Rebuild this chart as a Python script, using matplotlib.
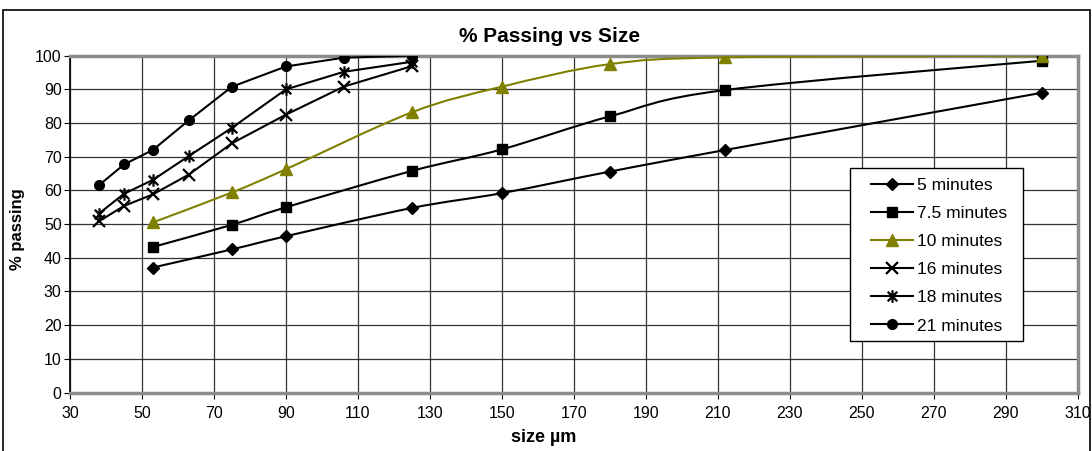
import numpy as np
import matplotlib
matplotlib.use("Agg")
import matplotlib.pyplot as plt
from matplotlib.path import Path
from matplotlib.patches import PathPatch, Rectangle
from matplotlib.lines import Line2D

plt.rcParams['font.family'] = ['Liberation Sans', 'DejaVu Sans']

# sieve sizes (um)
sizes_fine = [38, 45, 53, 63, 75, 90, 106, 125]
sizes_coarse = [53, 75, 90, 125, 150, 180, 212, 300]

# % passing per grinding time
pass_5 = [37.1, 42.5, 46.4, 54.8, 59.2, 65.6, 72.0, 89.0]
pass_7_5 = [43.2, 49.8, 55.0, 65.8, 72.2, 82.0, 89.8, 98.5]
pass_10 = [50.5, 59.4, 66.3, 83.2, 90.8, 97.5, 99.5, 100.0]
pass_16 = [50.8, 55.4, 58.8, 64.7, 74.0, 82.5, 90.8, 96.9]
pass_18 = [53.1, 59.0, 63.1, 70.2, 78.6, 90.0, 95.2, 98.2]
pass_21 = [61.5, 67.7, 72.0, 80.8, 90.8, 96.8, 99.4, 100.0]

labels = ['5 minutes', '7.5 minutes', '10 minutes',
          '16 minutes', '18 minutes', '21 minutes']

OLIVE = '#808000'

# excel-like asterisk: an X with a vertical bar
star = Path([(-1, -1), (1, 1), (-1, 1), (1, -1), (0, -1.3), (0, 1.3)],
            [Path.MOVETO, Path.LINETO] * 3)


def smooth_path(xs, ys):
    # bezier path through the points (excel "smoothed line")
    pts = np.column_stack([xs, ys]).astype(float)
    n = len(pts)
    verts = [pts[0]]
    codes = [Path.MOVETO]
    for i in range(n - 1):
        p0 = pts[max(i - 1, 0)]
        p1, p2 = pts[i], pts[i + 1]
        p3 = pts[min(i + 2, n - 1)]
        verts += [p1 + (p2 - p0) / 6, p2 - (p3 - p1) / 6, p2]
        codes += [Path.CURVE4] * 3
    return Path(verts, codes)


series = [
    (sizes_coarse, pass_5, 'black', dict(marker='D', markersize=6.5), True),
    (sizes_coarse, pass_7_5, 'black', dict(marker='s', markersize=7), True),
    (sizes_coarse, pass_10, OLIVE, dict(marker='^', markersize=9), True),
    (sizes_fine, pass_16, 'black', dict(marker='x', markersize=8, markeredgewidth=1.6), False),
    (sizes_fine, pass_18, 'black', dict(marker=star, markersize=9, markeredgewidth=1.6,
                                        markerfacecolor='none'), False),
    (sizes_fine, pass_21, 'black', dict(marker='o', markersize=7), False),
]

fig = plt.figure(figsize=(10.92, 4.51), dpi=100)
ax = fig.add_axes([0.0641, 0.1297, 0.923, 0.7468])

handles = []
for (x, y, color, mk, smooth), lab in zip(series, labels):
    if smooth:
        ax.add_patch(PathPatch(smooth_path(x, y), facecolor='none',
                               edgecolor=color, lw=1.5, zorder=3))
        ax.plot(x, y, linestyle='none', color=color, zorder=4, **mk)
    else:
        ax.plot(x, y, '-', color=color, lw=1.5, zorder=3, **mk)
    handles.append(Line2D([], [], color=color, lw=1.5, **mk))

ax.set_xlim(30, 310)
ax.set_ylim(0, 100)
ax.set_xticks(np.arange(30, 311, 20))
ax.set_yticks(np.arange(0, 101, 10))
ax.grid(True, color='#333333', lw=0.9)
ax.set_axisbelow(True)
ax.tick_params(axis='both', labelsize=11.5, direction='out', length=4, color='black')
ax.tick_params(axis='x', pad=6)
ax.tick_params(axis='y', pad=2)

for s in ['top', 'right', 'bottom']:
    ax.spines[s].set_color('#8c8c8c')
    ax.spines[s].set_linewidth(2.5)
ax.spines['left'].set_color('black')
ax.spines['left'].set_linewidth(1.2)

fig.text(0.503, 1 - 37 / 451, '% Passing vs Size', ha='center', va='center',
         fontsize=15, fontweight='bold')
fig.text(0.498, 1 - 437 / 451, 'size µm', ha='center', va='center',
         fontsize=13, fontweight='bold')
fig.text(18 / 1092, 1 - 229 / 451, '% passing', ha='center', va='center',
         rotation=90, fontsize=12, fontweight='bold')

# legend box
box = Rectangle((0.7738, 0.1543), 0.1716, 0.5134, transform=ax.transAxes,
                facecolor='white', edgecolor='black', lw=1.0, zorder=5)
ax.add_patch(box)
leg = ax.legend(handles, labels, loc='upper left', bbox_to_anchor=(0.7858, 0.664),
                frameon=False, borderpad=0, fontsize=12.5, handlelength=2.45,
                handletextpad=0.23, labelspacing=0.75)
leg.set_zorder(6)

# outer chart border
fig.add_artist(Rectangle((3 / 1092, -0.01), 1087 / 1092, 1 - 10 / 451 + 0.01,
                         transform=fig.transFigure, facecolor='none',
                         edgecolor='black', lw=1.2))

fig.savefig('out.png', dpi=100)
